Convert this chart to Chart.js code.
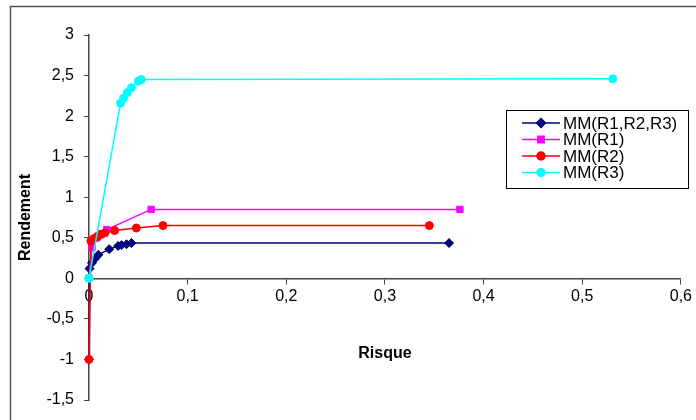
<!DOCTYPE html>
<html>
<head>
<meta charset="utf-8">
<script src="https://cdn.jsdelivr.net/npm/chart.js@4.4.1/dist/chart.umd.min.js"></script>
<style>
    html, body { margin: 0; padding: 0; background: #fff; }
    #wrap { position: relative; width: 696px; height: 420px; }
</style>
</head>
<body>
<div id="wrap"><canvas id="riskChart" width="696" height="420"></canvas></div>
<script>
    // Valeurs (risque, rendement)
    const seriesNames = ['MM(R1,R2,R3)', 'MM(R1)', 'MM(R2)', 'MM(R3)'];

    const mmAllRisk = [0, 0.0005, 0.003, 0.006, 0.0095, 0.0205, 0.0295, 0.033, 0.038, 0.043, 0.365];
    const mmAllRet  = [-1, 0.12, 0.19, 0.24, 0.29, 0.36, 0.40, 0.41, 0.42, 0.435, 0.435];

    const mmR1Risk = [0, 0.003, 0.008, 0.013, 0.018, 0.063, 0.376];
    const mmR1Ret  = [0, 0.38, 0.50, 0.55, 0.60, 0.85, 0.85];

    const mmR2Risk = [0, 0.002, 0.005, 0.009, 0.012, 0.016, 0.026, 0.048, 0.075, 0.345];
    const mmR2Ret  = [-1, 0.46, 0.49, 0.52, 0.54, 0.56, 0.59, 0.62, 0.65, 0.65];

    const mmR3Risk = [0, 0.032, 0.035, 0.039, 0.043, 0.050, 0.053, 0.531];
    const mmR3Ret  = [0, 2.16, 2.22, 2.29, 2.35, 2.43, 2.45, 2.46];

    const xTicks = [0, 0.1, 0.2, 0.3, 0.4, 0.5, 0.6];
    const yTicks = [-1.5, -1, -0.5, 0, 0.5, 1, 1.5, 2, 2.5, 3];

    function toPoints(xs, ys) {
        return xs.map((x, i) => ({ x: x, y: ys[i] }));
    }

    function frNumber(v) {
        return String(Math.round(v * 10) / 10).replace('.', ',');
    }

    const fontFamily = '"Liberation Sans", Arial, sans-serif';

    // cadre gris autour du graphique
    const frame = {
        id: 'frame',
        beforeDraw(chart) {
            const ctx = chart.ctx;
            ctx.save();
            ctx.fillStyle = '#fff';
            ctx.fillRect(0, 0, chart.width, chart.height);
            ctx.strokeStyle = '#555';
            ctx.lineWidth = 1.5;
            ctx.strokeRect(10.5, 6.5, 800, 600);
            ctx.restore();
        }
    };

    // légende encadrée à droite
    const boxLegend = {
        id: 'boxLegend',
        afterDraw(chart) {
            const ctx = chart.ctx;
            ctx.save();
            ctx.fillStyle = '#fff';
            ctx.fillRect(506, 110, 182, 78);
            ctx.strokeStyle = '#000';
            ctx.lineWidth = 1;
            ctx.strokeRect(506.5, 110.5, 182, 78);
            ctx.font = '17px ' + fontFamily;
            ctx.textBaseline = 'middle';
            chart.data.datasets.forEach((ds, i) => {
                const y = 123 + i * 16.5;
                ctx.strokeStyle = ds.borderColor;
                ctx.lineWidth = 1.5;
                ctx.beginPath();
                ctx.moveTo(522, y);
                ctx.lineTo(560, y);
                ctx.stroke();
                ctx.fillStyle = ds.borderColor;
                Chart.helpers.drawPoint(ctx, {
                    pointStyle: ds.pointStyle,
                    radius: ds.pointRadius,
                    borderWidth: 1,
                    rotation: 0
                }, 541, y);
                ctx.fillStyle = '#000';
                ctx.fillText(ds.label, 563, y + 1);
            });
            ctx.restore();
        }
    };

    // order : la dernière série est dessinée au-dessus (comme Excel)
    function makeSet(label, color, style, radius, xs, ys, order) {
        return {
            label: label,
            data: toPoints(xs, ys),
            borderColor: color,
            backgroundColor: color,
            borderWidth: 1.5,
            pointStyle: style,
            pointRadius: radius,
            pointHoverRadius: radius,
            pointBorderWidth: 1,
            tension: 0,
            clip: false,
            order: order
        };
    }

    const ctx = document.getElementById('riskChart').getContext('2d');
    const riskChart = new Chart(ctx, {
        type: 'line',
        data: {
            datasets: [
                makeSet(seriesNames[0], '#000080', 'rectRot', 4.5, mmAllRisk, mmAllRet, 4),
                makeSet(seriesNames[1], '#ff00ff', 'rect', 4.5, mmR1Risk, mmR1Ret, 3),
                makeSet(seriesNames[2], '#ff0000', 'circle', 4, mmR2Risk, mmR2Ret, 2),
                makeSet(seriesNames[3], '#00ffff', 'circle', 4, mmR3Risk, mmR3Ret, 1)
            ]
        },
        options: {
            responsive: false,
            animation: false,
            devicePixelRatio: 1,
            layout: {
                padding: { top: 35, bottom: 20, left: 0, right: 14 }
            },
            plugins: {
                legend: { display: false },
                tooltip: { enabled: false }
            },
            scales: {
                x: {
                    type: 'linear',
                    position: { y: 0 },
                    min: 0,
                    max: 0.6,
                    afterBuildTicks: function (scale) {
                        scale.ticks = xTicks.map(v => ({ value: v }));
                    },
                    afterFit: function (scale) {
                        scale.height = 85;
                    },
                    ticks: {
                        color: '#000',
                        padding: 4,
                        maxRotation: 0,
                        font: { size: 16, family: fontFamily },
                        callback: function (value) { return frNumber(value); }
                    },
                    grid: {
                        drawOnChartArea: false,
                        drawTicks: true,
                        tickLength: 5,
                        color: '#444'
                    },
                    border: { display: true, color: '#444', width: 1.5 },
                    title: {
                        display: true,
                        text: 'Risque',
                        color: '#000',
                        padding: 0,
                        font: { size: 16, weight: 'bold', family: fontFamily }
                    }
                },
                y: {
                    type: 'linear',
                    position: 'left',
                    min: -1.5,
                    max: 3,
                    afterBuildTicks: function (scale) {
                        scale.ticks = yTicks.map(v => ({ value: v }));
                    },
                    afterFit: function (scale) {
                        scale.width = 89;
                    },
                    ticks: {
                        color: '#000',
                        padding: 10,
                        font: { size: 16, family: fontFamily },
                        callback: function (value) { return frNumber(value); }
                    },
                    grid: {
                        drawOnChartArea: false,
                        drawTicks: true,
                        tickLength: 5,
                        color: '#444'
                    },
                    border: { display: true, color: '#444', width: 1.5 },
                    title: {
                        display: true,
                        text: 'Rendement',
                        color: '#000',
                        padding: { top: 16, bottom: 0 },
                        font: { size: 16, weight: 'bold', family: fontFamily }
                    }
                }
            }
        },
        plugins: [frame, boxLegend]
    });
</script>
</body>
</html>
